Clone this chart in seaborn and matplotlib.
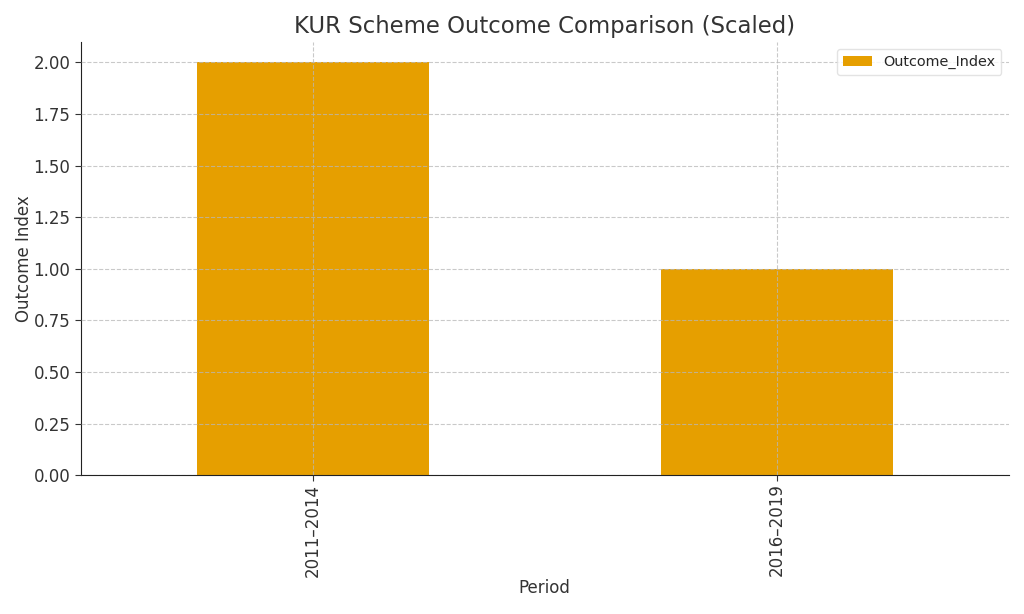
import pandas as pd
import matplotlib
matplotlib.use("Agg")
import matplotlib.pyplot as plt
import seaborn as sns

# data
periods = ["2011–2014", "2016–2019"]
outcome_index = [2.0, 1.0]

df = pd.DataFrame({"Period": periods, "Outcome_Index": outcome_index})

sns.set_style("white")
plt.rcParams["font.family"] = ["DejaVu Sans"]

fig, ax = plt.subplots(figsize=(10.24, 6.14), dpi=100)
sns.barplot(data=df, x="Period", y="Outcome_Index", color="#E69F00",
            saturation=1, width=0.5, linewidth=0, label="Outcome_Index", ax=ax)

ax.set_title("KUR Scheme Outcome Comparison (Scaled)", fontsize=16.4, color="#333333")
ax.set_xlabel("Period", fontsize=12, color="#333333", labelpad=2)
ax.set_ylabel("Outcome Index", fontsize=12, color="#333333", labelpad=0)
ax.set_ylim(0, 2.1)
ax.set_yticks([0, 0.25, 0.5, 0.75, 1.0, 1.25, 1.5, 1.75, 2.0])
ax.set_yticklabels([f"{v:.2f}" for v in ax.get_yticks()])
ax.tick_params(axis="x", labelrotation=90, pad=2)
ax.tick_params(labelsize=12, colors="#333333", length=4, left=True, bottom=True)
ax.grid(True, linestyle="--", color="#b8b8b8", alpha=0.75, linewidth=0.8)
ax.set_axisbelow(False)
for s in ["top", "right"]:
    ax.spines[s].set_visible(False)
for s in ["left", "bottom"]:
    ax.spines[s].set_color("#222222")
ax.legend(loc="upper right", fontsize=10.4, frameon=True, edgecolor="#dddddd")

plt.subplots_adjust(left=0.079, right=0.985, top=0.932, bottom=0.226)
plt.savefig("out.png", dpi=100)
